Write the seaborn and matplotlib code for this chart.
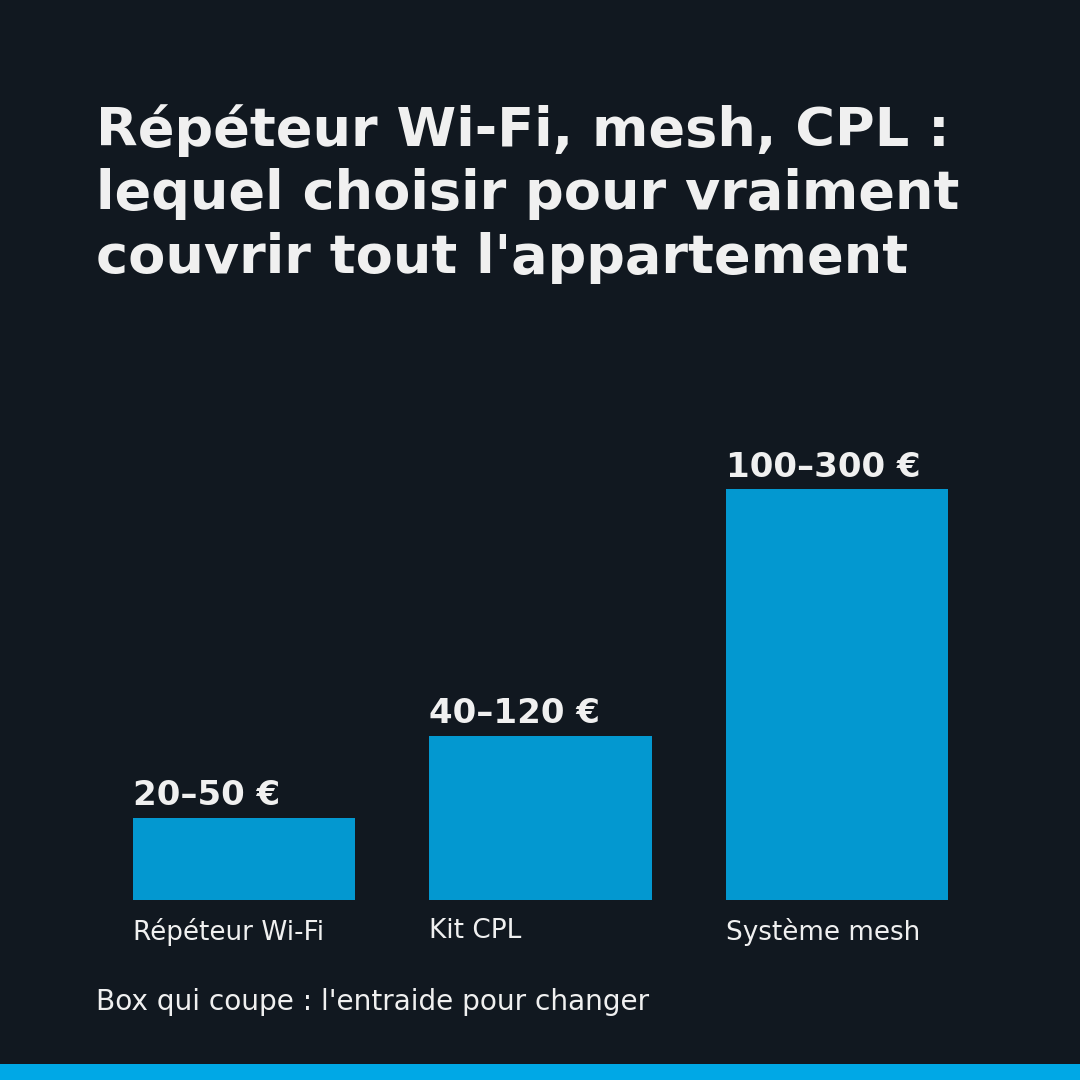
import matplotlib
matplotlib.use('Agg')
import matplotlib.pyplot as plt
import seaborn as sns
import pandas as pd

categories = ['Répéteur Wi-Fi', 'Kit CPL', 'Système mesh']
values = [20, 40, 100]
price_labels = ['20–50 €', '40–120 €', '100–300 €']

BG = '#111820'
BAR = '#0398d0'
TXT = '#f0f0f0'

sns.set_theme(style='white')
plt.rcParams['font.family'] = ['DejaVu Sans']

df = pd.DataFrame({'cat': categories, 'val': values})

fig = plt.figure(figsize=(10.8, 10.8), dpi=100, facecolor=BG)
ax = fig.add_axes([133 / 1080, 180 / 1080, 815 / 1080, 493 / 1080])
ax.set_facecolor(BG)
sns.barplot(data=df, x='cat', y='val', color=BAR, width=0.75, saturation=1,
            linewidth=0, edgecolor=BAR, ax=ax)
ax.set_xlim(-0.375, 2.375)
ax.set_ylim(0, 120)
ax.axis('off')

for i, (v, lab, cat) in enumerate(zip(values, price_labels, categories)):
    ax.annotate(lab, (i - 0.375, v), xytext=(0, 4), textcoords='offset points',
                ha='left', va='bottom', fontsize=24.5, fontweight='bold', color=TXT)
    ax.annotate(cat, (i - 0.375, 0), xytext=(0, -13), textcoords='offset points',
                ha='left', va='top', fontsize=18.9, color=TXT)

fig.text(96 / 1080, 1 - 104 / 1080, "Répéteur Wi-Fi, mesh, CPL :\nlequel choisir pour vraiment\ncouvrir tout l'appartement",
         ha='left', va='top', fontsize=39, fontweight='bold', color=TXT, linespacing=1.28)
fig.text(96 / 1080, 1 - 1002 / 1080, "Box qui coupe : l'entraide pour changer",
         ha='left', va='center', fontsize=20.2, color=TXT)

strip = fig.add_axes([0, 0, 1, 16 / 1080])
strip.set_facecolor('#00a8e6')
strip.set_xticks([])
strip.set_yticks([])
for s in strip.spines.values():
    s.set_visible(False)

fig.savefig('out.png', dpi=100, facecolor=BG)
